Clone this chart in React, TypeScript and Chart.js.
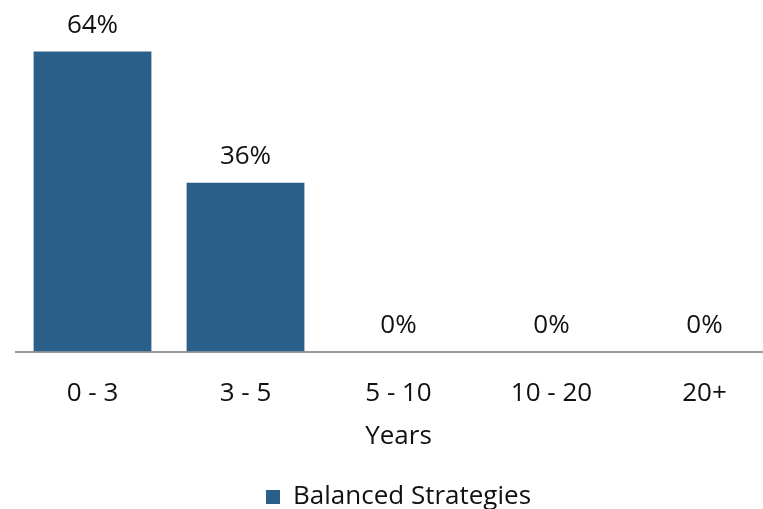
import React, { useEffect, useRef } from "react";
import { Chart, registerables } from "chart.js";

Chart.register(...registerables);

const categories = ["0 - 3", "3 - 5", "5 - 10", "10 - 20", "20+"];
const seriesName = "Balanced Strategies";
const values = [64, 36, 0, 0, 0];
const axisTitle = "Years";

const FONT = "'Open Sans', Lato, sans-serif";
const BAR = "#2A5F8A";
const TEXT = "#111111";
const FS = 26;

const labelPlugin = {
  id: "valueLabels",
  afterDatasetsDraw(chart: any) {
    const ctx = chart.ctx;
    const meta = chart.getDatasetMeta(0);
    ctx.save();
    ctx.font = `${FS}px ${FONT}`;
    ctx.fillStyle = TEXT;
    ctx.textAlign = "center";
    ctx.textBaseline = "alphabetic";
    meta.data.forEach((el: any, i: number) => {
      const v = chart.data.datasets[0].data[i];
      ctx.fillText(`${v}%`, el.x, el.y - 19);
    });
    ctx.restore();
  },
};

export default function App() {
  const ref = useRef<HTMLCanvasElement>(null);
  useEffect(() => {
    const chart = new Chart(ref.current!, {
      type: "bar",
      data: {
        labels: categories,
        datasets: [
          {
            label: seriesName,
            data: values,
            backgroundColor: BAR,
            borderWidth: 0,
            categoryPercentage: 1,
            barPercentage: 0.77,
          },
        ],
      },
      options: {
        animation: false,
        responsive: false,
        maintainAspectRatio: false,
        layout: { padding: { left: 16, right: 25, top: 0, bottom: 0 } },
        scales: {
          y: {
            display: false,
            min: 0,
            max: 75,
          },
          x: {
            grid: { display: false, drawTicks: false },
            border: { display: true, color: "#9a9a9a", width: 2 },
            ticks: {
              color: TEXT,
              font: { family: FONT, size: FS },
              padding: 26,
            },
            title: {
              display: true,
              text: axisTitle,
              color: TEXT,
              font: { family: FONT, size: FS },
              padding: { top: -14, bottom: 26 },
            },
          },
        },
        plugins: {
          legend: {
            position: "bottom",
            labels: {
              color: TEXT,
              font: { family: FONT, size: FS },
              boxWidth: 14,
              boxHeight: 14,
              padding: 6,
            },
          },
          tooltip: { enabled: false },
        },
      },
      plugins: [labelPlugin],
    });
    return () => chart.destroy();
  }, []);
  return (
    <div style={{ position: "fixed", left: 0, top: 0, width: 806, height: 520, background: "#fff" }}>
      <canvas ref={ref} width={806} height={520} />
    </div>
  );
}
